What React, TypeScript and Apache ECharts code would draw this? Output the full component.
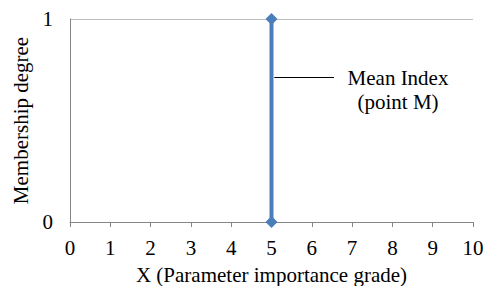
import React, { useEffect, useRef } from "react";
import * as echarts from "echarts";

const xTicks = [0, 1, 2, 3, 4, 5, 6, 7, 8, 9, 10];
const meanX = 5;
const membershipPoints: [number, number][] = [
  [5, 0],
  [5, 1],
];
const annotationLines = ["Mean Index", "(point M)"];
const xTitle = "X (Parameter importance grade)";
const yTitle = "Membership degree";

const FONT = "Times New Roman, Liberation Serif, serif";
const FS = 21;

export default function App() {
  const ref = useRef<HTMLDivElement>(null);
  useEffect(() => {
    document.body.style.margin = "0";
    if (!ref.current) return;
    const chart = echarts.init(ref.current, undefined, { renderer: "svg" });
    const axisGray = "#868686";
    chart.setOption({
      animation: false,
      backgroundColor: "#ffffff",
      textStyle: { fontFamily: FONT },
      grid: {
        left: 70,
        right: 10,
        top: 19,
        bottom: 64,
        containLabel: false,
        outerBoundsMode: "none",
      },
      xAxis: {
        type: "value",
        min: xTicks[0],
        max: xTicks[xTicks.length - 1],
        interval: 1,
        name: xTitle,
        nameLocation: "middle",
        nameGap: 42,
        nameTextStyle: { fontFamily: FONT, fontSize: FS, color: "#000" },
        axisLine: { show: true, lineStyle: { color: axisGray, width: 1 } },
        axisTick: { show: true, length: 5, lineStyle: { color: axisGray } },
        axisLabel: { fontFamily: FONT, fontSize: FS, color: "#000", margin: 15 },
        splitLine: { show: false },
      },
      yAxis: {
        type: "value",
        min: 0,
        max: 1,
        interval: 1,
        name: yTitle,
        nameLocation: "middle",
        nameGap: 38,
        nameTextStyle: { fontFamily: FONT, fontSize: FS, color: "#000" },
        axisLine: { show: true, lineStyle: { color: axisGray, width: 1 } },
        axisTick: { show: false },
        axisLabel: { fontFamily: FONT, fontSize: FS, color: "#000", margin: 17 },
        splitLine: { show: true, lineStyle: { color: "#bcbcbc", width: 1 } },
      },
      series: [
        {
          type: "line",
          data: membershipPoints,
          symbol: "diamond",
          symbolSize: 12,
          lineStyle: { color: "#4A7EBB", width: 4 },
          itemStyle: { color: "#4A7EBB" },
          z: 5,
          markLine: {
            silent: true,
            symbol: "none",
            label: { show: false },
            lineStyle: { color: "#000", width: 1, type: "solid" },
            data: [[{ coord: [meanX + 0.07, 0.715] }, { coord: [meanX + 1.55, 0.715] }]],
          },
        },
      ],
      graphic: [
        {
          type: "text",
          x: 398,
          y: 66,
          style: {
            text: annotationLines.join("\n"),
            fontFamily: FONT,
            fontSize: FS,
            fill: "#000",
            align: "center",
            lineHeight: 24,
          },
        },
      ],
    });
    return () => chart.dispose();
  }, []);
  return <div ref={ref} style={{ width: 483, height: 286 }} />;
}
